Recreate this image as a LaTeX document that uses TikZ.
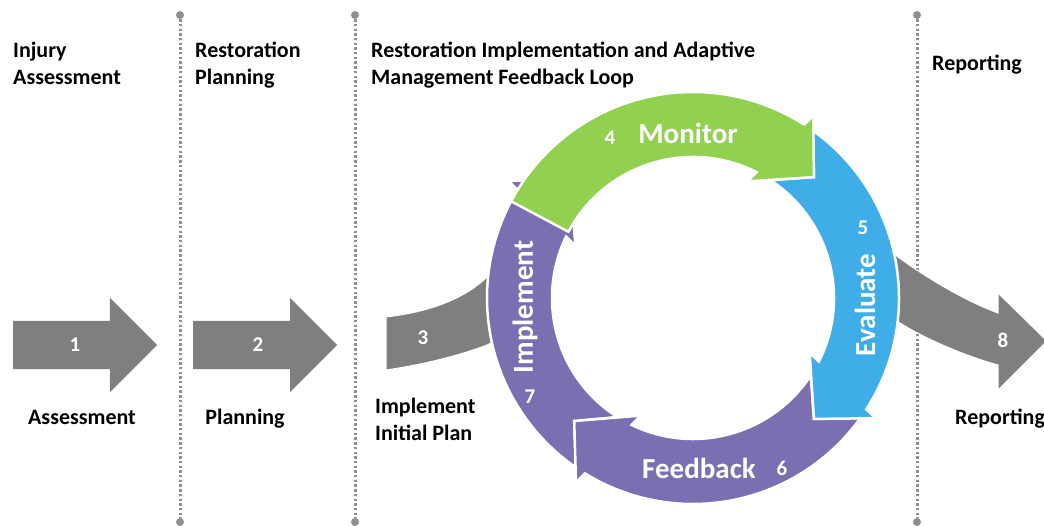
\documentclass[tikz,border=0pt]{standalone}
\usepackage{fontspec}
\setmainfont{Carlito}
\usepackage{xcolor}
\usepackage{tikz}
\usetikzlibrary{shapes,arrows,positioning,calc,arrows.meta}

\definecolor{stepgray}{HTML}{7F7F7F}
\definecolor{divgray}{HTML}{8E8E8E}
\definecolor{loopgreen}{HTML}{92D050}
\definecolor{loopblue}{HTML}{3FAEE8}
\definecolor{looppurple}{HTML}{7B6EB1}

% ring arrow, tail notched to the previous head: colour, tip angle, tail angle (from tip)
\newcommand{\ringarrow}[3]{%
  \begin{scope}[shift={(ctr)}, rotate=#2]
    \path[fill=#1, draw=white, line width=2.5pt]
      (#3+9.4:206) arc[start angle=#3+9.4, end angle=12.33, radius=206pt]
      -- (214,44) -- (171,0) -- (121,44)
      -- (18.18:141) arc[start angle=18.18, end angle=#3+11.6, radius=141pt]
      -- (#3:171) -- cycle;
  \end{scope}}
% same, with a straight tail
\newcommand{\ringarrowflat}[3]{%
  \begin{scope}[shift={(ctr)}, rotate=#2]
    \path[fill=#1, draw=white, line width=2.5pt]
      (#3:206) arc[start angle=#3, end angle=12.33, radius=206pt]
      -- (214,44) -- (171,0) -- (121,44)
      -- (18.18:141) arc[start angle=18.18, end angle=#3, radius=141pt]
      -- cycle;
  \end{scope}}

\begin{document}
\begin{tikzpicture}[x=1pt, y=1pt,
    toptext/.style={font=\fontsize{22}{27}\selectfont\bfseries, align=left, anchor=north west, inner sep=0pt},
    steplabel/.style={font=\fontsize{22}{27}\selectfont\bfseries, inner sep=0pt},
    stepnum/.style={text=white, font=\fontsize{21}{24}\selectfont\bfseries, inner sep=0pt},
    ringtext/.style={text=white, font=\fontsize{29}{34}\selectfont\bfseries, inner sep=0pt},
    steparrow/.style={single arrow, fill=stepgray, draw=none, minimum height=144pt,
        text height=24pt, text depth=24pt, text width=0pt,
        single arrow head extend=23pt, single arrow tip angle=90, inner sep=0pt, anchor=tail},
    grayband/.style={fill=stepgray, draw=white, line width=1pt},
    divdot/.style={circle, fill=divgray, inner sep=0pt, minimum size=8pt},
    divline/.style={divgray, line width=3pt, dash pattern=on 2.4pt off 2.3pt}]
    \path[use as bounding box, clip] (0,0) rectangle (1044,525);
    \coordinate (ctr) at (693,227);

    % dividers
    \foreach \x/\n in {180/d1, 355/d2, 917/d3} {
        \node[divdot] (\n) at (\x,510) {};
        \node[divdot] (\n-end) at (\x,3) {};
        \draw[divline] (\n) -- (\n-end);
    }

    % headings
    \node[toptext] (h1) at (13,483) {Injury\\Assessment};
    \node[toptext] (h2) at (195,483) {Restoration\\Planning};
    \node[toptext] (h3) at (371,483) {Restoration Implementation and Adaptive\\Management Feedback Loop};
    \node[toptext] (h4) at (932,470) {Reporting};

    % straight steps
    \node[steparrow] (a1) at (13,180) {};
    \node[steparrow] (a2) at (193,180) {};
    \node[stepnum] (n1) at ([xshift=62pt]a1.tail) {1};
    \node[stepnum] (n2) at ([xshift=65pt]a2.tail) {2};
    \node[steplabel, anchor=base] (l1) at (82,100) {Assessment};
    \node[steplabel, anchor=base] (l2) at (245,100) {Planning};

    % bent steps into and out of the loop
    \path[grayband] (386,208) .. controls (420,212) and (460,222) .. (487,248) -- (512,275)
        -- (512,193) -- (487,180) .. controls (455,168) and (420,160) .. (386,155) -- cycle;
    \path[grayband] (878,283) -- (898,268) .. controls (920,252) and (960,226) .. (998,212)
        -- (998,232) -- (1047,184) -- (998,135) -- (998,160)
        .. controls (962,170) and (922,188) .. (900,202) -- (878,214) -- cycle;
    \node[stepnum] (n3) at (423,187) {3};
    \node[stepnum] (n8) at (1003,185) {8};
    \node[steplabel, align=left, anchor=north west] (l3) at (375,127) {Implement\\Initial Plan};
    \node[steplabel, anchor=base west] (l8) at (955,100) {Reporting};

    % feedback loop
    \ringarrow{looppurple}{136}{90}
    \ringarrow{looppurple}{-134}{89}
    \ringarrow{loopblue}{-45}{90}
    \ringarrowflat{loopgreen}{45}{107}

    \node[ringtext] (mon) at (688,392) {Monitor};
    \node[ringtext, rotate=90] (eva) at (865,220) {Evaluate};
    \node[ringtext] (fee) at (699,57) {Feedback};
    \node[ringtext, rotate=90] (imp) at (525,218) {Implement};
    \node[stepnum] (n4) at (610,387) {4};
    \node[stepnum] (n5) at (863,297) {5};
    \node[stepnum] (n6) at (782,57) {6};
    \node[stepnum] (n7) at (530,128) {7};
\end{tikzpicture}
\end{document}
